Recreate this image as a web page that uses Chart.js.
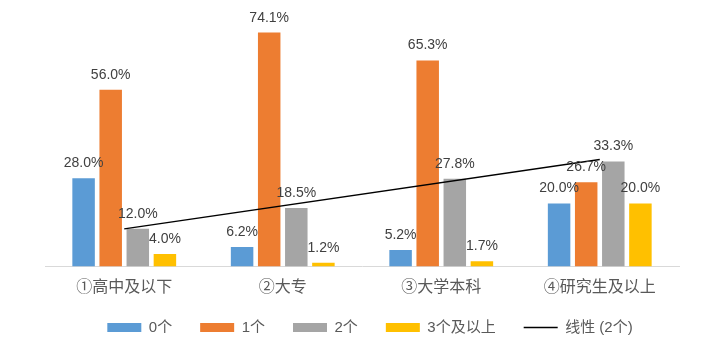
<!DOCTYPE html>
<html>
<head>
<meta charset="utf-8">
<script src="https://cdn.jsdelivr.net/npm/chart.js@4/dist/chart.umd.min.js"></script>
<style>
  html, body { margin: 0; padding: 0; background: #fff; }
  #wrap { width: 710px; height: 354px; }
</style>
</head>
<body>
<div id="wrap"><canvas id="chart" width="710" height="354"></canvas></div>
<script>
// data
const categories = ['①高中及以下', '②大专', '③大学本科', '④研究生及以上'];
const zero = [28.0, 6.2, 5.2, 20.0];
const one = [56.0, 74.1, 65.3, 26.7];
const two = [12.0, 18.5, 27.8, 33.3];
const threePlus = [4.0, 1.2, 1.7, 20.0];
// linear trend of "2个", ends
const trendTwo = [11.9, null, null, 33.9];

const FONT = "'Liberation Sans', 'Noto Sans CJK SC', sans-serif";

// percent labels above each bar
const barLabels = {
  id: 'barLabels',
  afterDatasetsDraw(chart) {
    const ctx = chart.ctx;
    ctx.save();
    ctx.font = '14px ' + FONT;
    ctx.fillStyle = '#404040';
    ctx.textAlign = 'center';
    ctx.textBaseline = 'alphabetic';
    chart.data.datasets.forEach((ds, i) => {
      if (ds.type === 'line') return;
      const meta = chart.getDatasetMeta(i);
      meta.data.forEach((bar, j) => {
        ctx.fillText(ds.data[j].toFixed(1) + '%', bar.x, bar.y - 11);
      });
    });
    ctx.restore();
  }
};

// nudge the legend a little up and right, like the original
const legendNudge = {
  id: 'legendNudge',
  afterLayout(chart) {
    const lg = chart.legend;
    lg.top -= 5.5;
    lg.bottom -= 5.5;
    lg.left += 8;
    lg.right += 8;
  }
};

function bar(label, data, color) {
  return {
    type: 'bar',
    label: label,
    data: data,
    backgroundColor: color,
    borderWidth: 0,
    order: 1,
    categoryPercentage: 0.684,
    barPercentage: 0.83
  };
}

new Chart(document.getElementById('chart'), {
  data: {
    labels: categories,
    datasets: [
      bar('0个', zero, '#5B9BD5'),
      bar('1个', one, '#ED7D31'),
      bar('2个', two, '#A5A5A5'),
      bar('3个及以上', threePlus, '#FFC000'),
      {
        type: 'line',
        label: '线性 (2个)',
        data: trendTwo,
        borderColor: '#000000',
        backgroundColor: '#000000',
        borderWidth: 1.3,
        pointRadius: 0,
        spanGaps: true,
        tension: 0,
        fill: false,
        order: 0
      }
    ]
  },
  options: {
    responsive: false,
    animation: false,
    layout: { padding: { left: 45, right: 31, top: 14, bottom: 3.5 } },
    scales: {
      x: {
        grid: { display: false, drawTicks: false },
        border: { display: true, color: '#D9D9D9', width: 1 },
        ticks: { color: '#595959', font: { family: FONT, size: 16 }, padding: 11.5 },
        afterFit(scale) { scale.height = 31; }
      },
      y: { display: false, min: 0, max: 80 }
    },
    plugins: {
      tooltip: { enabled: false },
      legend: {
        position: 'bottom',
        labels: {
          usePointStyle: true,
          pointStyleWidth: 34,
          boxHeight: 9,
          padding: 28,
          color: '#595959',
          font: { family: FONT, size: 15 },
          sort: (a, b) => a.datasetIndex - b.datasetIndex,
          generateLabels(chart) {
            const items = Chart.defaults.plugins.legend.labels.generateLabels(chart);
            items.forEach(it => {
              it.pointStyle = chart.data.datasets[it.datasetIndex].type === 'line' ? 'line' : 'rect';
            });
            return items;
          }
        }
      }
    }
  },
  plugins: [barLabels, legendNudge]
});
</script>
</body>
</html>
